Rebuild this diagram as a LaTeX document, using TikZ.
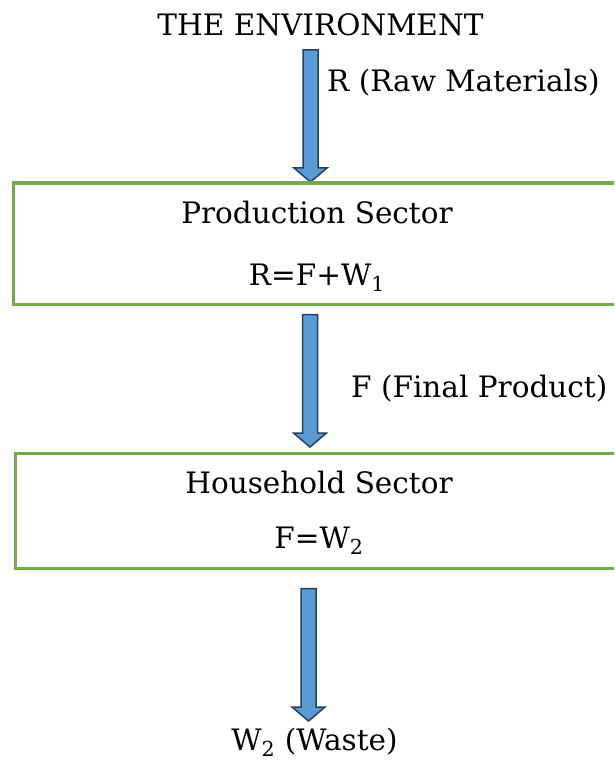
\documentclass[tikz,border=0pt]{standalone}
\usepackage{fontspec}
\setmainfont{DejaVu Serif}
\usetikzlibrary{calc}
\definecolor{boxgreen}{HTML}{70AD47}
\definecolor{arrfill}{HTML}{5B9BD5}
\definecolor{arrline}{HTML}{243F60}
\newcommand\fatarrow[2]{%
  \path[arrowstyle] let \p1=(#1), \p2=(#2) in
    (\x1-7.5pt,\y1) -- (\x1+7.5pt,\y1) -- (\x1+7.5pt,\y2+14pt) -- (\x1+16.5pt,\y2+14pt)
    -- (\x1,\y2) -- (\x1-16.5pt,\y2+14pt) -- (\x1-7.5pt,\y2+14pt) -- cycle;}
\begin{document}
\begin{tikzpicture}[x=1pt,y=1pt,
  every node/.style={inner sep=0pt,font=\fontsize{29.5}{35}\selectfont},
  arrowstyle/.style={fill=arrfill,draw=arrline,line width=1.5pt,line join=miter},
  sectorbox/.style={draw=boxgreen,line width=2.6pt}]
\clip (0,0) rectangle (614,-762);
\fill[white] (0,0) rectangle (614,-762);
% texts
\node[anchor=base] (env) at (320.5,-36) {THE ENVIRONMENT};
\node[anchor=base west] (rlab) at (327,-92) {R (Raw Materials)};
\node[anchor=base] (prodt) at (317,-223) {Production Sector};
\node[anchor=base] (prode) at (317,-285) {R=F+W\textsubscript{1}};
\node[anchor=base west] (flab) at (351,-397) {F (Final Product)};
\node[anchor=base] (hht) at (319,-493) {Household Sector};
\node[anchor=base] (hhe) at (319,-548) {F=W\textsubscript{2}};
\node[anchor=base] (waste) at (314.5,-750) {W\textsubscript{2} (Waste)};
% boxes
\node[sectorbox,anchor=north west,minimum width=613pt,minimum height=121pt] (prod) at (12,-182) {};
\node[sectorbox,anchor=north west,minimum width=611pt,minimum height=115pt] (hh) at (14,-452) {};
% arrow end points
\coordinate (a1s) at ([yshift=-14pt]env.base -| 310.5,0);
\coordinate (a1e) at (prod.north -| a1s);
\coordinate (a2s) at ([yshift=-9pt]prod.south -| 310,0);
\coordinate (a2e) at ([yshift=5pt]hh.north -| a2s);
\coordinate (a3s) at ([yshift=-19pt]hh.south -| 308.5,0);
\coordinate (a3e) at ([yshift=29pt]waste.base -| a3s);
\fatarrow{a1s}{a1e}
\fatarrow{a2s}{a2e}
\fatarrow{a3s}{a3e}
% redraw box top over the first arrow tip
\draw[boxgreen,line width=2.6pt] (prod.north west) -- (prod.north east);
\end{tikzpicture}
\end{document}
